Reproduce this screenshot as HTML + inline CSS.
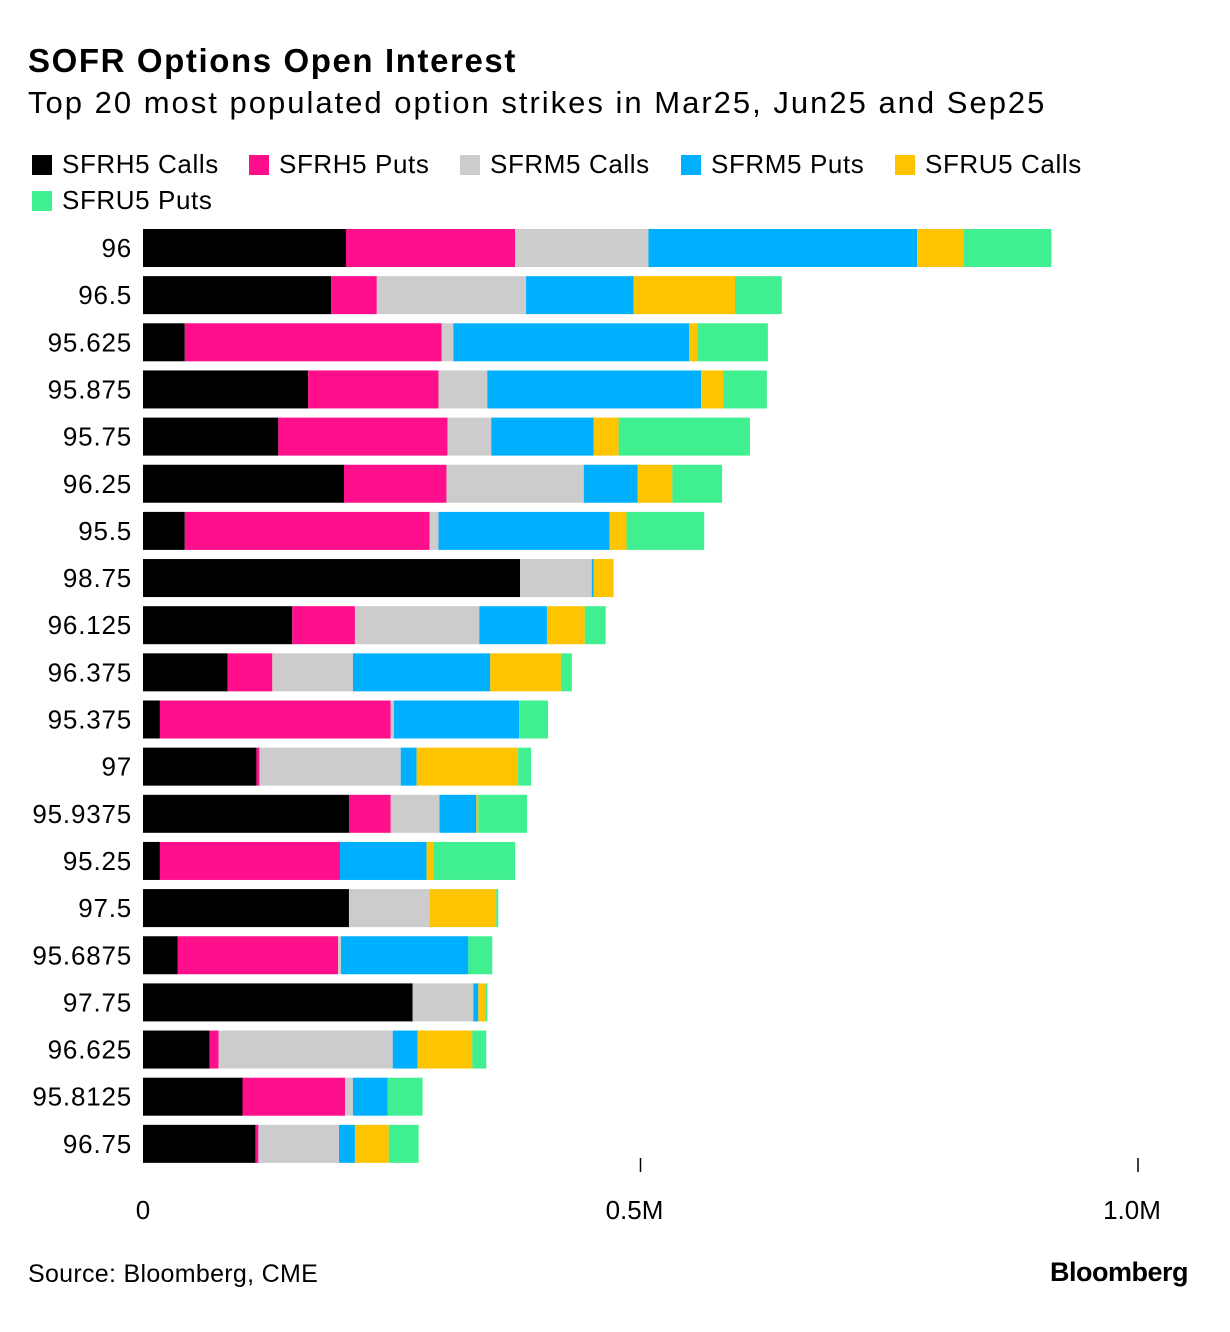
<!DOCTYPE html>
<html><head><meta charset="utf-8"><style>
body{margin:0;background:#fff;font-family:"Liberation Sans",sans-serif;color:#000}
#wrap{position:relative;width:1230px;height:1332px;overflow:hidden}
.t{position:absolute;white-space:nowrap}
</style></head><body>
<div id="wrap">
<div class="t" style="left:28px;top:42px;font-size:33px;font-weight:bold;letter-spacing:1.6px">SOFR Options Open Interest</div>
<div class="t" style="left:28px;top:85px;font-size:31px;letter-spacing:2px">Top 20 most populated option strikes in Mar25, Jun25 and Sep25</div>
<div id="legend"></div>
<svg id="chart" width="1230" height="1332" style="position:absolute;left:0;top:0"></svg>
<div class="t" style="left:28px;top:1260px;font-size:25px;letter-spacing:0.3px">Source: Bloomberg, CME</div>
<div class="t" style="left:1050px;top:1257px;font-size:27px;font-weight:bold;letter-spacing:-0.5px">Bloomberg</div>
</div>
<script>
const categories=["96","96.5","95.625","95.875","95.75","96.25","95.5","98.75","96.125","96.375","95.375","97","95.9375","95.25","97.5","95.6875","97.75","96.625","95.8125","96.75"];
const seriesNames=["SFRH5 Calls","SFRH5 Puts","SFRM5 Calls","SFRM5 Puts","SFRU5 Calls","SFRU5 Puts"];
const colors=["#000000","#ff0f8c","#cccccc","#00b0ff","#ffc400","#40f090"];
const h5Calls=[204,189,42,166,136,202,42,379,150,85,17,114,207,17,207,35,271,67,100,113];
const h5Puts=[170,46,258,131,170,103,246,0,63,45,232,3,42,181,0,161,0,9,103,3];
const m5Calls=[134,150,12,49,44,138,9,72,125,81,3,142,49,0,81,3,61,175,8,81];
const m5Puts=[270,108,237,215,103,54,172,2,68,138,126,16,37,87,0,128,5,25,35,16];
const u5Calls=[47,102,8,22,25,35,17,20,38,71,0,102,2,7,67,0,7,55,0,34];
const u5Puts=[88,47,71,44,132,50,78,0,21,11,29,13,49,82,2,24,2,14,35,30];
const tickValues=[0,500,1000];
const tickLabels=["0","0.5M","1.0M"];
const series=[h5Calls,h5Puts,m5Calls,m5Puts,u5Calls,u5Puts];
const NS="http://www.w3.org/2000/svg";
const svg=document.getElementById('chart');
const x0=143,x1=1138;
function xScale(v){return x0+(x1-x0)*v/1000;}
function yScale(i){return 229+i*47.15;}
const bh=38;
categories.forEach((c,i)=>{
  const y=yScale(i);
  const lab=document.createElementNS(NS,'text');
  
  
  lab.setAttribute('x',132);lab.setAttribute('y',y+28);lab.setAttribute('text-anchor','end');
  lab.setAttribute('font-size','26');lab.setAttribute('letter-spacing','0.8');lab.setAttribute('font-family','Liberation Sans, sans-serif');
  lab.textContent=c;svg.appendChild(lab);
  let acc=0;
  series.forEach((s,k)=>{
    const v=s[i];if(v<=0)return;
    const r=document.createElementNS(NS,'rect');
    
    
    r.setAttribute('x',xScale(acc));r.setAttribute('y',y);
    r.setAttribute('width',xScale(acc+v)-xScale(acc));r.setAttribute('height',bh);
    r.setAttribute('fill',colors[k]);svg.appendChild(r);acc+=v;
  });
});
tickValues.forEach((t,i)=>{
  const x=xScale(t);
  if(t>0){const l=document.createElementNS(NS,'line');
    
    
    l.setAttribute('x1',x);l.setAttribute('x2',x);l.setAttribute('y1',1158);l.setAttribute('y2',1172);
    l.setAttribute('stroke','#000');l.setAttribute('stroke-width','1.5');svg.appendChild(l);}
  const tx=document.createElementNS(NS,'text');
  
  
  tx.setAttribute('x',t>0?x-6:x);tx.setAttribute('y',1219);tx.setAttribute('text-anchor','middle');
  tx.setAttribute('font-size','26');tx.setAttribute('font-family','Liberation Sans, sans-serif');
  tx.textContent=tickLabels[i];svg.appendChild(tx);
});
const leg=document.getElementById('legend');
const legPos=[[32,149],[249,149],[460,149],[681,149],[895,149],[32,185]];
seriesNames.forEach((n,k)=>{
  const d=document.createElement('div');
  
  
  d.className='t';d.style.left=legPos[k][0]+'px';d.style.top=legPos[k][1]+'px';d.style.fontSize='26px';d.style.letterSpacing='0.6px';
  d.innerHTML='<span style="display:inline-block;width:20px;height:20px;background:'+colors[k]+';margin-right:10px;vertical-align:-2px"></span>'+n;
  leg.appendChild(d);
});
</script>
</body></html>
